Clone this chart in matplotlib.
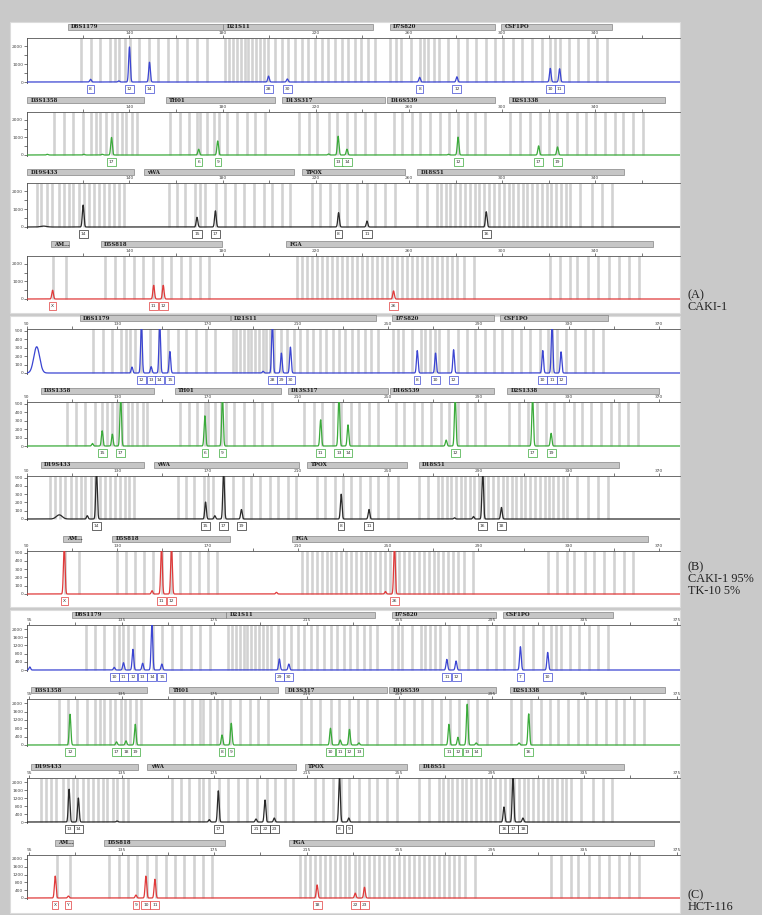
import numpy as np
import matplotlib
matplotlib.use("Agg")
import matplotlib.pyplot as plt
from matplotlib.patches import Rectangle
from matplotlib.transforms import blended_transform_factory

W, H = 762, 915

# ---- loci (bp) : name, marker bar extent, allele bins ----
BLUE_LOCI = ["D8S1179", "D21S11", "D7S820", "CSF1PO"]
BLUE_BARS = [(113.4, 180.0), (180.3, 244.7), (251.7, 297.0), (299.7, 347.3)]
BLUE_BINS = [
    [119.4, 123.5, 127.5, 131.8, 133.9, 135.6, 137.9, 140.4, 144.3, 148.6, 152.4, 156.7, 160.6, 164.9, 169.1, 173.4],
    [181.2, 182.8, 184.5, 186.1, 187.8, 189.4, 191.1, 192.7, 194.4, 196.0, 197.7, 199.6, 202.5, 205.4, 208.2, 211.1,
     213.9, 216.8, 219.6, 222.5, 225.4, 228.2, 231.1, 233.9, 236.8, 239.6, 242.5, 245.4],
    [252.0, 254.3, 256.4, 260.7, 264.6, 266.3, 268.4, 270.6, 272.7, 276.6, 280.9, 284.8, 288.6, 292.9, 296.8],
    [300.5, 304.8, 308.7, 313.0, 317.3, 320.7, 322.8, 325.0, 328.8, 332.7, 337.0, 340.9, 345.2],
]
GREEN_LOCI = ["D3S1358", "TH01", "D13S317", "D16S539", "D2S1338"]
GREEN_BARS = [(96.0, 146.1), (155.5, 202.7), (205.5, 249.9), (250.7, 297.0), (302.8, 370.0)]
GREEN_BINS = [
    [107.8, 111.8, 115.8, 120.1, 123.3, 125.5, 127.5, 130.0, 132.3, 134.7, 136.6, 138.7, 141.2, 143.3],
    [157.6, 161.9, 165.4, 169.0, 170.1, 173.3, 176.1, 178.3, 181.9, 186.2, 190.5, 194.1, 198.4],
    [212.7, 217.0, 220.6, 225.5, 229.1, 233.4, 237.0, 241.3, 245.5],
    [253.4, 257.0, 261.3, 264.9, 269.2, 273.2, 277.0, 280.9, 284.9, 288.5, 292.8],
    [303.5, 307.8, 311.8, 316.1, 320.0, 323.6, 327.8, 332.2, 336.1, 340.0, 344.3, 348.6, 352.1, 356.4, 360.7],
]
BLACK_LOCI = ["D19S433", "vWA", "TPOX", "D18S51"]
BLACK_BARS = [(96.0, 141.9), (146.1, 210.5), (214.1, 258.5), (263.5, 352.2)]
BLACK_BINS = [
    [100.1, 102.2, 104.6, 106.8, 109.6, 111.8, 113.9, 115.8, 118.2, 120.3, 122.5, 124.6, 126.8, 128.9, 131.1,
     133.2, 135.4, 137.6],
    [156.9, 160.5, 164.0, 168.3, 170.2, 172.6, 177.3, 181.2, 185.5, 189.1, 193.4, 197.7, 201.2, 205.5, 209.1],
    [218.4, 222.0, 226.3, 229.8, 233.4, 237.7, 242.0, 245.6, 249.9, 254.2],
    [263.5, 267.8, 272.1, 273.9, 275.9, 277.8, 279.9, 282.1, 283.9, 286.1, 288.2, 290.2, 292.4, 294.4, 296.4,
     298.5, 300.7, 302.8, 304.7, 306.7, 308.8, 310.7, 312.9, 315.0, 317.2, 319.3, 321.2, 323.2, 325.3, 327.3,
     329.3, 333.6, 338.6, 342.9, 347.2],
]
RED_LOCI = ["AM...", "D5S818", "FGA"]
RED_BARS = [(106.1, 113.9), (127.6, 179.8), (207.4, 365.0)]
RED_BINS = [
    [107.0, 112.9],
    [129.7, 133.8, 137.8, 141.8, 145.9, 149.9, 154.0, 158.0, 162.1, 166.2, 170.2, 174.2],
    [212.0, 214.2, 216.3, 218.5, 220.6, 222.8, 224.9, 227.1, 229.2, 231.4, 233.5, 235.7, 237.8, 240.0, 242.1,
     244.3, 246.4, 248.6, 250.7, 252.9, 255.0, 257.2, 259.3, 261.5, 263.6, 265.8, 267.9, 270.1, 272.2, 274.4,
     276.5, 278.7, 280.8, 283.5, 287.8, 320.7, 325.0, 329.3, 332.2, 337.1, 341.4, 345.7, 350.0, 354.3, 358.6],
]

# ---- peaks per panel / dye : size (bp), height (RFU), allele call ----
A_BLUE_POS = [123.3, 135.4, 140.0, 148.6, 199.7, 207.8, 264.6, 280.6, 320.7, 324.7]
A_BLUE_HT = [150, 60, 1950, 1100, 330, 170, 260, 290, 760, 740]
A_BLUE_LAB = ["8", "", "12", "14", "28", "30", "8", "12", "10", "11"]
A_GREEN_POS = [104.7, 120.4, 128.3, 132.3, 169.7, 177.9, 225.5, 229.6, 233.4, 277.0, 281.1, 315.7, 323.8]
A_GREEN_HT = [40, 40, 40, 1000, 330, 800, 60, 1070, 330, 40, 1020, 520, 460]
A_GREEN_LAB = ["", "", "", "17", "6", "9", "", "13", "14", "", "12", "17", "19"]
A_BLACK_POS = [120.1, 169.0, 176.9, 229.8, 242.0, 293.2]
A_BLACK_HT = [1220, 540, 900, 800, 330, 850]
A_BLACK_LAB = ["14", "15", "17", "8", "11", "16"]
A_RED_POS = [107.0, 150.4, 154.5, 253.4]
A_RED_HT = [500, 780, 780, 460]
A_RED_LAB = ["X", "11", "12", "26"]

B_BLUE_POS = [136.5, 140.7, 145.0, 148.8, 153.3, 194.6, 198.7, 202.7, 206.7, 262.9, 271.0, 279.0, 318.5, 322.6, 326.6]
B_BLUE_HT = [70, 600, 75, 600, 254, 20, 600, 235, 306, 265, 235, 275, 265, 600, 250]
B_BLUE_LAB = ["", "12", "13", "14", "15", "", "28", "29", "30", "8", "10", "12", "10", "11", "12"]
B_GREEN_POS = [119.0, 123.3, 127.8, 131.5, 168.8, 176.6, 220.1, 228.2, 232.2, 275.7, 279.7, 314.0, 322.2]
B_GREEN_HT = [30, 180, 140, 600, 357, 600, 310, 600, 250, 70, 600, 600, 150]
B_GREEN_LAB = ["", "15", "", "17", "6", "9", "11", "13", "14", "", "12", "17", "19"]
B_BLACK_POS = [116.7, 120.8, 169.1, 173.2, 177.1, 185.0, 229.2, 241.5, 279.4, 287.8, 291.9, 300.2]
B_BLACK_HT = [40, 600, 205, 40, 600, 115, 300, 115, 15, 30, 600, 140]
B_BLACK_LAB = ["", "14", "15", "", "17", "19", "8", "11", "", "", "16", "18"]
B_RED_POS = [106.5, 145.4, 149.6, 154.0, 200.5, 248.8, 252.8]
B_RED_HT = [600, 40, 600, 600, 20, 30, 600]
B_RED_LAB = ["X", "", "11", "12", "", "", "26"]

C_BLUE_POS = [95.3, 131.8, 135.8, 139.9, 144.1, 148.1, 152.4, 203.2, 207.3, 275.6, 279.6, 307.4, 319.2]
C_BLUE_HT = [150, 130, 356, 1010, 330, 2300, 290, 540, 290, 520, 440, 1140, 860]
C_BLUE_LAB = ["", "10", "11", "12", "13", "14", "15", "29", "30", "11", "12", "7", "10"]
C_GREEN_POS = [112.7, 132.8, 136.9, 140.9, 178.4, 182.4, 225.3, 229.5, 233.5, 237.6, 276.5, 280.4, 284.4, 288.3,
               306.8, 311.0]
C_GREEN_HT = [1470, 150, 200, 990, 480, 1040, 800, 240, 750, 100, 990, 370, 1950, 100, 100, 1490]
C_GREEN_LAB = ["12", "17", "18", "19", "8", "9", "10", "11", "12", "13", "11", "12", "13", "14", "", "16"]
C_BLACK_POS = [112.3, 116.3, 133.0, 172.9, 176.8, 193.1, 197.0, 201.0, 229.2, 233.2, 300.3, 304.2, 308.5]
C_BLACK_HT = [1640, 1200, 50, 120, 1560, 150, 1100, 200, 2300, 200, 750, 2300, 200]
C_BLACK_LAB = ["13", "14", "", "", "17", "21", "22", "23", "8", "9", "16", "17", "18"]
C_RED_POS = [106.3, 112.0, 141.2, 145.5, 149.4, 219.5, 236.0, 240.0]
C_RED_HT = [1120, 100, 150, 1120, 960, 670, 250, 550]
C_RED_LAB = ["X", "Y", "9", "10", "11", "18", "22", "23"]

# broad bumps (primer / dye artefacts)
HUMPS = {("A", 2): ([103.1], [50]), ("B", 0): ([94.3], [310]), ("B", 2): ([104.3], [50])}

# ---- axis scales per panel ----
XLIM = {"A": (96, 376.4), "B": (90, 379.3), "C": (94.1, 376.4)}
XMAJOR = {"A": [140, 180, 220, 260, 300, 340], "B": [90, 130, 170, 210, 250, 290, 330, 370],
          "C": [95, 135, 175, 215, 255, 295, 335, 375]}
XMINOR = {"A": [120, 160, 200, 240, 280, 320, 360], "B": [110, 150, 190, 230, 270, 310, 350],
          "C": [115, 155, 195, 235, 275, 315, 355]}
YMAX = {"A": 2450, "B": 520, "C": 2200}
YMAJOR = {"A": [0, 1000, 2000], "B": [0, 100, 200, 300, 400, 500], "C": [0, 400, 800, 1200, 1600, 2000]}
YMINOR = {"A": [500, 1500], "B": [], "C": []}

# ---- layout (pixels): header, ruler, baseline ----
ROWS = {
    "A": [(27, 38, 82), (100, 112, 155), (172, 183, 227), (244, 256, 299)],
    "B": [(318, 329, 373), (391, 402, 446), (465, 476, 519), (539, 551, 594)],
    "C": [(615, 625, 670), (690, 699, 745), (767, 778, 822), (843, 855, 898)],
}
PANEL_BOX = {"A": (22, 313), "B": (316, 607), "C": (610, 913)}
SIDE_TEXT = {"A": (295, ["(A)", "CAKI-1"]), "B": (567, ["(B)", "CAKI-1 95%", "TK-10 5%"]),
             "C": (895, ["(C)", "HCT-116"])}

DYES = [
    (BLUE_LOCI, BLUE_BARS, BLUE_BINS, "#3b45d2"),
    (GREEN_LOCI, GREEN_BARS, GREEN_BINS, "#3aaa3a"),
    (BLACK_LOCI, BLACK_BARS, BLACK_BINS, "#2a2a2a"),
    (RED_LOCI, RED_BARS, RED_BINS, "#e03a3a"),
]
PEAKS = {
    "A": [(A_BLUE_POS, A_BLUE_HT, A_BLUE_LAB), (A_GREEN_POS, A_GREEN_HT, A_GREEN_LAB),
          (A_BLACK_POS, A_BLACK_HT, A_BLACK_LAB), (A_RED_POS, A_RED_HT, A_RED_LAB)],
    "B": [(B_BLUE_POS, B_BLUE_HT, B_BLUE_LAB), (B_GREEN_POS, B_GREEN_HT, B_GREEN_LAB),
          (B_BLACK_POS, B_BLACK_HT, B_BLACK_LAB), (B_RED_POS, B_RED_HT, B_RED_LAB)],
    "C": [(C_BLUE_POS, C_BLUE_HT, C_BLUE_LAB), (C_GREEN_POS, C_GREEN_HT, C_GREEN_LAB),
          (C_BLACK_POS, C_BLACK_HT, C_BLACK_LAB), (C_RED_POS, C_RED_HT, C_RED_LAB)],
}


def fy(y):
    return 1 - y / H


fig = plt.figure(figsize=(W / 100, H / 100), dpi=100, facecolor="#c9c9c9")

for panel, (top, bot) in PANEL_BOX.items():
    # white sheet behind each panel (drawn below the axes)
    fig.patches.append(Rectangle((10 / W, fy(bot)), 670 / W, (bot - top) / H, transform=fig.transFigure,
                                 facecolor="white", edgecolor="#dcdcdc", lw=0.8, zorder=-5))
    ty, lines = SIDE_TEXT[panel]
    for k, line in enumerate(lines):
        fig.text(688 / W, fy(ty + 12 * k), line, va="center", ha="left", fontsize=8.8,
                 family="Liberation Serif", color="#222222")

X0, X1 = 27, 680
for panel, rows in ROWS.items():
    lo, hi = XLIM[panel]
    ymax = YMAX[panel]
    for i, (hy, ry, by) in enumerate(rows):
        loci, bars, bins, col = DYES[i]
        ylo = -0.03 * ymax
        bot_px = by + (by - ry) * 0.03
        ax = fig.add_axes([X0 / W, fy(bot_px), (X1 - X0) / W, (bot_px - ry) / H])
        ax.set_xlim(lo, hi)
        ax.set_ylim(ylo, ymax)
        ax.set_facecolor("none")

        # allele bins
        all_bins = [b for grp in bins for b in grp]
        ax.vlines(all_bins, 0, ymax, color="#d2d2d2", lw=1.9, zorder=1)

        # trace
        pos, ht, lab = PEAKS[panel][i]
        xs = np.linspace(lo, hi, 8000)
        ys = np.zeros_like(xs)
        for p, h in zip(pos, ht):
            ys += h * np.exp(-0.5 * ((xs - p) / 0.35) ** 2)
        if (panel, i) in HUMPS:
            for p, h in zip(*HUMPS[(panel, i)]):
                ys += h * np.exp(-0.5 * ((xs - p) / 1.3) ** 2)
        ax.plot(xs, ys, color=col, lw=0.9, zorder=3)

        # axes styling
        for s in ("right", "bottom"):
            ax.spines[s].set_visible(False)
        ax.spines["top"].set_color("#555555")
        ax.spines["top"].set_linewidth(0.6)
        ax.spines["left"].set_color("#444444")
        ax.spines["left"].set_linewidth(0.6)
        ax.xaxis.tick_top()
        ax.set_xticks(XMAJOR[panel])
        ax.set_xticks(XMINOR[panel], minor=True)
        ax.set_xticklabels([str(v) for v in XMAJOR[panel]])
        ax.set_yticks(YMAJOR[panel])
        ax.set_yticks(YMINOR[panel], minor=True)
        ax.tick_params(axis="x", which="both", length=2, width=0.5, pad=0.5, labelsize=3.2, colors="#444444")
        ax.tick_params(axis="y", which="both", length=2, width=0.5, pad=0.8, labelsize=3.2, colors="#444444")

        # locus header bars
        tr = blended_transform_factory(ax.transData, fig.transFigure)
        for name, (s, e) in zip(loci, bars):
            ax.add_patch(Rectangle((s, fy(hy + 3)), e - s, 6 / H, transform=tr, clip_on=False,
                                   facecolor="#c6c6c6", edgecolor="#7a7a7a", lw=0.45))
            ax.text(s + 1.5, fy(hy), name, transform=tr, fontsize=3.9, fontweight="bold",
                    family="DejaVu Serif", va="center", ha="left", color="#1a1a1a", clip_on=False)

        # allele call boxes
        for p, lbl in zip(pos, lab):
            if lbl:
                ax.text(p, fy(by + 7), lbl, transform=tr, fontsize=3.2, ha="center", va="center",
                        color="#333333", clip_on=False,
                        bbox=dict(boxstyle="square,pad=0.4", fc="white", ec=col, lw=0.5))

fig.savefig("out.png", dpi=100, facecolor=fig.get_facecolor())
